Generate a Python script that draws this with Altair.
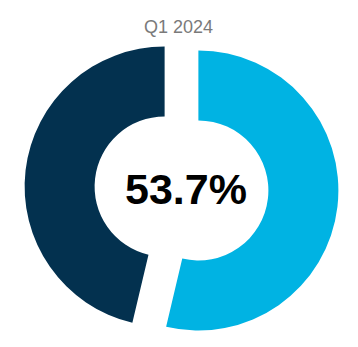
import altair as alt
import pandas as pd

title_text = "Q1 2024"
categories = ["Share", "Remainder"]
values = [53.7, 46.3]
colors = ["#00B3E3", "#03314F"]
center_label = "53.7%"

df = pd.DataFrame({"category": categories, "value": values, "order": [0, 1]})

base = alt.Chart(df).transform_window(
    cum="sum(value)", sort=[alt.SortField("order")], frame=[None, 0]
).transform_joinaggregate(total="sum(value)").transform_calculate(
    a1="datum.cum / datum.total * 2 * PI",
    a0="(datum.cum - datum.value) / datum.total * 2 * PI",
).transform_calculate(
    mid="(datum.a0 + datum.a1) / 2"
).transform_calculate(
    px="181.5 + 17 * sin(datum.mid)",
    py="188.5 - 17 * cos(datum.mid)",
)

arcs = base.mark_arc(innerRadius=70, outerRadius=140).encode(
    theta=alt.Theta("a0:Q", scale=None),
    theta2="a1:Q",
    x=alt.X("px:Q", scale=None),
    y=alt.Y("py:Q", scale=None),
    color=alt.Color("category:N", scale=alt.Scale(domain=categories, range=colors), legend=None),
)

center = alt.Chart(pd.DataFrame({"label": [center_label]})).mark_text(
    font="Liberation Sans", fontSize=43, fontWeight="bold", color="#000000",
    align="center", baseline="alphabetic"
).encode(text="label:N", x=alt.value(186), y=alt.value(204))

title = alt.Chart(pd.DataFrame({"label": [title_text]})).mark_text(
    font="Liberation Sans", fontSize=18, color="#7A7A7A",
    align="center", baseline="alphabetic"
).encode(text="label:N", x=alt.value(178.5), y=alt.value(33))

chart = alt.layer(arcs, center, title).properties(
    width=358, height=347, padding=0, autosize=alt.AutoSizeParams(type="none")
).configure_view(stroke=None)

chart.save("out.html", embed_options={"renderer": "svg", "actions": False})
